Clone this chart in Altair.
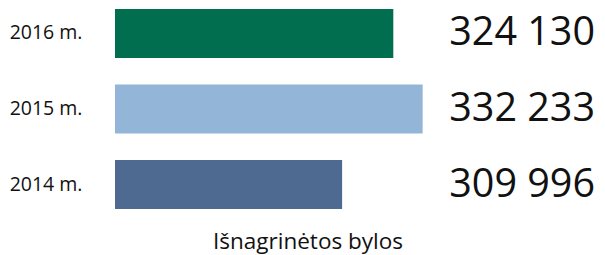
import altair as alt
import pandas as pd

years = ["2016 m.", "2015 m.", "2014 m."]
values = [324130, 332233, 309996]
labels = ["324 130", "332 233", "309 996"]
colors = ["#006e4f", "#93b6d8", "#4e6a91"]

X_MIN = 247300
X_MAX = 380360

df = pd.DataFrame({"year": years, "value": values, "label": labels, "color": colors})

y_enc = alt.Y(
    "year:N",
    sort=years,
    scale=alt.Scale(paddingInner=0.351, paddingOuter=0),
    axis=alt.Axis(
        title=None, ticks=False, domain=False, labelPadding=33,
        labelFont="Open Sans", labelFontSize=19.5, labelColor="#111111",
    ),
)

x_scale = alt.Scale(domain=[X_MIN, X_MAX], zero=False, nice=False)

bars = alt.Chart(df).mark_bar().encode(
    x=alt.X(
        "value:Q",
        scale=x_scale,
        axis=alt.Axis(
            title="Išnagrinėtos bylos", labels=False, ticks=False, domain=False,
            grid=False, titleFont="Open Sans", titleFontSize=22.5, titleFontWeight="normal",
            titleColor="#111111", titlePadding=21, titleX=192.5, titleAlign="center",
        ),
    ),
    x2=alt.datum(X_MIN),
    y=y_enc,
    color=alt.Color("color:N", scale=None),
)

text = alt.Chart(df).mark_text(
    align="right", baseline="middle", font="Open Sans", fontSize=39.5,
    color="#111111", dx=-2,
).encode(
    x=alt.datum(X_MAX),
    y=alt.Y("year:N", sort=years),
    text="label:N",
)

chart = (
    alt.layer(bars, text)
    .properties(
        width=482, height=200,
        padding={"left": 107, "top": 1, "right": 0, "bottom": 46},
        autosize=alt.AutoSizeParams(type="none"),
    )
    .configure_view(stroke=None)
)

chart.save("out.html", embed_options={"renderer": "svg", "actions": False})
